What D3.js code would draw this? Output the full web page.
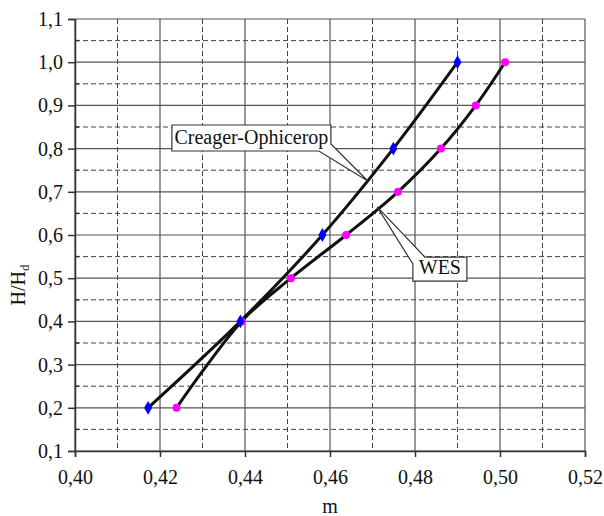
<!DOCTYPE html>
<html>
<head>
<meta charset="utf-8">
<script src="https://cdn.jsdelivr.net/npm/d3@7"></script>
<style>
  body { margin: 0; background: #fff; }
  svg text { font-family: "Liberation Serif", "Times New Roman", "DejaVu Serif", serif !important; }
</style>
</head>
<body>
<div id="chart"></div>
<script>
// data
var creagerH = [0.2, 0.4, 0.6, 0.8, 1.0];
var creagerM = [0.4172, 0.4389, 0.4582, 0.4749, 0.4900];

var wesH = [0.2, 0.4, 0.5, 0.6, 0.7, 0.8, 0.9, 1.0];
var wesM = [0.4239, 0.4392, 0.4508, 0.4638, 0.4760, 0.4861, 0.4943, 0.5012];

var xTicks = [0.40, 0.42, 0.44, 0.46, 0.48, 0.50, 0.52];
var yTicks = [0.1, 0.2, 0.3, 0.4, 0.5, 0.6, 0.7, 0.8, 0.9, 1.0, 1.1];

var svgWidth = 604;
var svgHeight = 516;

var margin = {
  top: 19,
  right: 19,
  bottom: 65,
  left: 75
};

var width = svgWidth - margin.left - margin.right;
var height = svgHeight - margin.top - margin.bottom;

var serif = "'Liberation Serif', 'Times New Roman', serif";

var svg = d3.select("#chart")
  .append("svg")
  .attr("width", svgWidth)
  .attr("height", svgHeight);

var chartGroup = svg.append("g")
  .attr("transform", `translate(${margin.left}, ${margin.top})`);

var xScale = d3.scaleLinear().domain([0.40, 0.52]).range([0, width]);
var yScale = d3.scaleLinear().domain([0.1, 1.1]).range([height, 0]);

var fmtX = d => d3.format(".2f")(d).replace(".", ",");
var fmtY = d => d3.format(".1f")(d).replace(".", ",");

// dashed minor grid (half steps)
var xMinor = d3.range(0.41, 0.52, 0.02);
var yMinor = d3.range(0.15, 1.1, 0.1);

chartGroup.selectAll(".vminor")
  .data(xMinor)
  .enter()
  .append("line")
  .attr("x1", d => xScale(d))
  .attr("x2", d => xScale(d))
  .attr("y1", 0)
  .attr("y2", height)
  .attr("stroke", "#444")
  .attr("stroke-width", 1)
  .attr("stroke-dasharray", "5,3");

chartGroup.selectAll(".hminor")
  .data(yMinor)
  .enter()
  .append("line")
  .attr("x1", 0)
  .attr("x2", width)
  .attr("y1", d => yScale(d))
  .attr("y2", d => yScale(d))
  .attr("stroke", "#444")
  .attr("stroke-width", 1)
  .attr("stroke-dasharray", "5,3");

// solid major grid
chartGroup.selectAll(".vmajor")
  .data(xTicks)
  .enter()
  .append("line")
  .attr("x1", d => xScale(d))
  .attr("x2", d => xScale(d))
  .attr("y1", 0)
  .attr("y2", height)
  .attr("stroke", "#555")
  .attr("stroke-width", 1.2);

chartGroup.selectAll(".hmajor")
  .data(yTicks)
  .enter()
  .append("line")
  .attr("x1", 0)
  .attr("x2", width)
  .attr("y1", d => yScale(d))
  .attr("y2", d => yScale(d))
  .attr("stroke", "#555")
  .attr("stroke-width", 1.2);

// axes
var bottomAxis = d3.axisBottom(xScale)
  .tickValues(xTicks)
  .tickFormat(fmtX)
  .tickSize(6)
  .tickPadding(13);

var leftAxis = d3.axisLeft(yScale)
  .tickValues(yTicks)
  .tickFormat(fmtY)
  .tickSize(7)
  .tickPadding(5);

var xAxis = chartGroup.append("g")
  .attr("transform", `translate(0, ${height})`)
  .call(bottomAxis);

var yAxis = chartGroup.append("g")
  .call(leftAxis);

[xAxis, yAxis].forEach(function(ax) {
  ax.attr("font-family", serif).attr("font-size", 20);
  ax.select(".domain").attr("stroke", "#333").attr("stroke-width", 1.5);
  ax.selectAll(".tick line").attr("stroke", "#333").attr("stroke-width", 1.5);
  ax.selectAll("text")
    .style("font-family", serif)
    .style("font-size", "20px")
    .attr("fill", "#111");
});

// small inner ticks on y axis at half steps
chartGroup.selectAll(".yminortick")
  .data(yMinor)
  .enter()
  .append("line")
  .attr("x1", 0)
  .attr("x2", 4)
  .attr("y1", d => yScale(d))
  .attr("y2", d => yScale(d))
  .attr("stroke", "#333")
  .attr("stroke-width", 1.5);

// series
var line = d3.line()
  .x(d => xScale(d[0]))
  .y(d => yScale(d[1]))
  .curve(d3.curveCatmullRom.alpha(0.5));

var creager = creagerM.map((m, i) => [m, creagerH[i]]);
var wes = wesM.map((m, i) => [m, wesH[i]]);

chartGroup.append("path")
  .datum(wes)
  .attr("d", line)
  .attr("fill", "none")
  .attr("stroke", "#111")
  .attr("stroke-width", 3);

chartGroup.append("path")
  .datum(creager)
  .attr("d", line)
  .attr("fill", "none")
  .attr("stroke", "#111")
  .attr("stroke-width", 3);

chartGroup.selectAll(".wesdot")
  .data(wes)
  .enter()
  .append("circle")
  .attr("cx", d => xScale(d[0]))
  .attr("cy", d => yScale(d[1]))
  .attr("r", 4)
  .attr("fill", "#ff00ff");

chartGroup.selectAll(".crdot")
  .data(creager)
  .enter()
  .append("path")
  .attr("d", d3.symbol().type(d3.symbolDiamond).size(55))
  .attr("transform", d => `translate(${xScale(d[0])}, ${yScale(d[1])})`)
  .attr("fill", "#0000ff");

// callout labels
function callout(x0, y0, w, h, tip, side, text) {
  var l = xScale(x0), t = yScale(y0), r = l + w, b = t + h;
  var tx = xScale(tip[0]), ty = yScale(tip[1]);
  var p;
  if (side === "bottomright") {
    p = [[l, t], [r, t], [r, b - 7], [tx, ty], [r - 12, b], [l, b]];
  } else {
    p = [[l + 12, t], [r, t], [r, b], [l, b], [l, t + 7], [tx, ty]];
  }
  chartGroup.append("path")
    .attr("d", "M" + p.join("L") + "Z")
    .attr("fill", "#fff")
    .attr("stroke", "#333")
    .attr("stroke-width", 1.2);
  chartGroup.append("text")
    .attr("x", (l + r) / 2)
    .attr("y", b - 7)
    .attr("text-anchor", "middle")
    .style("font-family", serif)
    .style("font-size", "20px")
    .attr("fill", "#111")
    .text(text);
}

callout(0.4228, 0.8546, 159, 26, [0.4689, 0.725], "bottomright", "Creager-Ophicerop");
callout(0.4795, 0.5490, 54, 24, [0.4711, 0.665], "topleft", "WES");

// axis titles
chartGroup.append("text")
  .attr("x", width / 2)
  .attr("y", height + 62)
  .attr("text-anchor", "middle")
  .style("font-family", serif)
  .style("font-size", "20px")
  .attr("fill", "#111")
  .text("m");

var yTitle = chartGroup.append("text")
  .attr("transform", `translate(${-margin.left + 25}, ${height / 2 + 50}) rotate(-90)`)
  .attr("text-anchor", "middle")
  .style("font-family", serif)
  .style("font-size", "20px")
  .attr("fill", "#111");
yTitle.append("tspan").text("H/H");
yTitle.append("tspan").style("font-size", "13px").attr("dy", 4).text("d");
</script>
</body>
</html>
